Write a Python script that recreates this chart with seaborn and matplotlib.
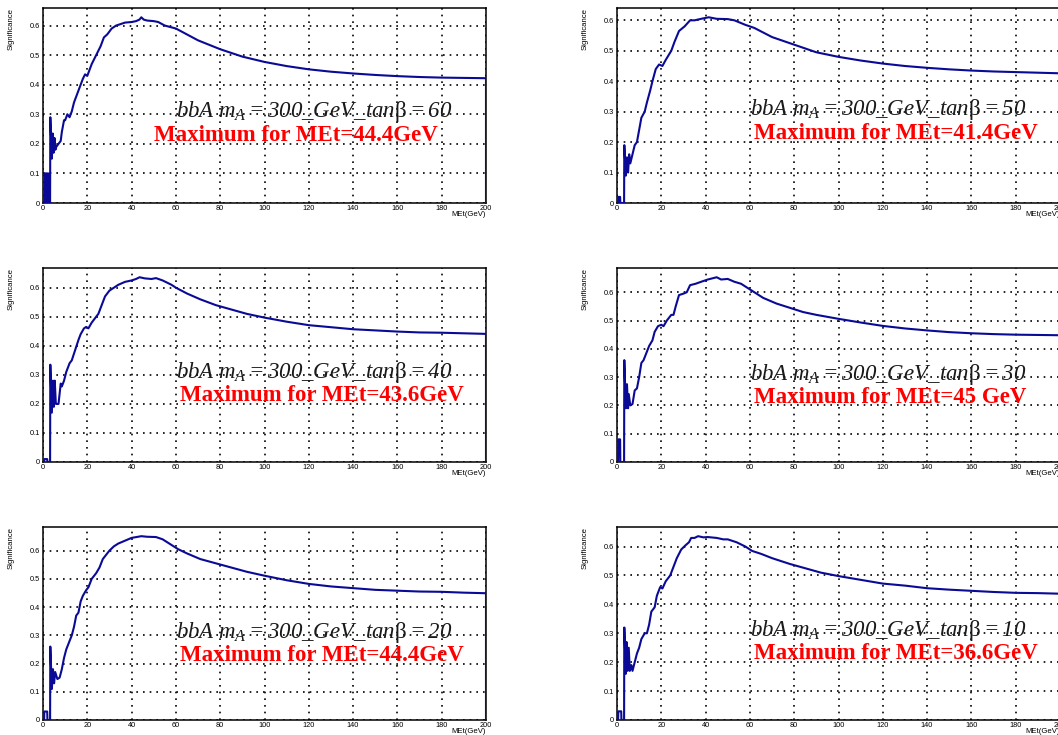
import matplotlib
matplotlib.use("Agg")
import matplotlib.pyplot as plt
from matplotlib.ticker import MultipleLocator
import seaborn as sns
import pandas as pd

# Significance vs. MET cut for bbA, m_A = 300 GeV, six tan(beta) points
tan_beta = [60, 50, 40, 30, 20, 10]
max_labels = ["44.4GeV", "41.4GeV", "43.6GeV", "45 GeV", "44.4GeV", "36.6GeV"]

met_tb60 = [0, 0.6, 0.7, 1.2, 1.3, 1.6, 1.7, 2.4, 2.5, 3.2, 3.3, 4.0, 4.4, 4.8, 5.2, 5.6, 6.0,
            7.0, 8.0, 8.5, 9.5, 10.0, 11.0, 12.0, 13.0, 14.0, 15.5, 17.0, 18.0, 19.0, 20.0, 21.0,
            22.0, 24.0, 26.0, 27.5, 29.0, 31.0, 33.0, 35.0, 37.0, 40.0, 42.0, 43.5, 44.4, 45.5,
            47.0, 50.0, 52.0, 55.0, 60.0, 65.0, 70.0, 75.0, 80.0, 90.0, 100.0, 110.0, 120.0,
            130.0, 140.0, 150.0, 160.0, 170.0, 180.0, 190.0, 200.0, 200.0]
sig_tb60 = [0, 0, 0.10, 0.10, 0, 0, 0.10, 0.10, 0, 0, 0.29, 0.15, 0.235, 0.17, 0.22, 0.18, 0.19,
            0.20, 0.21, 0.24, 0.28, 0.28, 0.30, 0.29, 0.31, 0.34, 0.37, 0.40, 0.42, 0.435, 0.43,
            0.45, 0.47, 0.50, 0.53, 0.56, 0.57, 0.59, 0.60, 0.605, 0.61, 0.612, 0.615, 0.62, 0.628,
            0.62, 0.617, 0.615, 0.612, 0.60, 0.59, 0.57, 0.55, 0.535, 0.52, 0.495, 0.477, 0.463,
            0.452, 0.444, 0.438, 0.433, 0.429, 0.426, 0.424, 0.423, 0.422, 0]

met_tb50 = [0, 0.5, 0.6, 1.4, 1.5, 3.2, 3.3, 4.0, 4.5, 5.0, 5.5, 6.0, 7.0, 8.0, 9.0, 10.0, 11.0,
            12.5, 13.5, 15.0, 16.0, 17.5, 19.0, 20.5, 22.0, 24.5, 26.0, 28.0, 30.5, 33.0, 35.0,
            38.0, 41.4, 45.0, 50.0, 53.0, 58.0, 62.0, 66.0, 70.0, 78.0, 84.0, 90.0, 100.0, 110.0,
            120.0, 130.0, 140.0, 150.0, 160.0, 170.0, 180.0, 190.0, 200.0, 200.0]
sig_tb50 = [0, 0, 0.02, 0.02, 0, 0, 0.19, 0.09, 0.15, 0.10, 0.16, 0.13, 0.16, 0.19, 0.20, 0.24,
            0.28, 0.30, 0.33, 0.37, 0.40, 0.44, 0.455, 0.45, 0.47, 0.50, 0.53, 0.565, 0.58, 0.60,
            0.60, 0.605, 0.61, 0.605, 0.604, 0.60, 0.585, 0.575, 0.56, 0.545, 0.525, 0.51, 0.495,
            0.48, 0.468, 0.458, 0.45, 0.444, 0.439, 0.435, 0.432, 0.43, 0.428, 0.426, 0]

met_tb40 = [0, 0.5, 0.6, 1.9, 2.0, 3.2, 3.3, 4.0, 4.5, 4.9, 5.3, 5.8, 7.0, 8.0, 8.5, 9.5, 10.5,
            12.0, 13.0, 14.5, 16.0, 17.0, 18.5, 19.5, 20.5, 22.0, 25.0, 26.5, 28.0, 30.0, 32.0,
            34.0, 37.0, 40.0, 42.0, 43.6, 46.0, 49.0, 51.0, 54.0, 58.0, 60.0, 65.0, 71.0, 78.0,
            85.0, 92.0, 100.0, 110.0, 120.0, 130.0, 140.0, 150.0, 160.0, 170.0, 180.0, 190.0,
            200.0, 200.0]
sig_tb40 = [0, 0, 0.01, 0.01, 0, 0, 0.335, 0.17, 0.28, 0.19, 0.28, 0.20, 0.20, 0.27, 0.26, 0.28,
            0.31, 0.34, 0.35, 0.385, 0.42, 0.44, 0.46, 0.465, 0.46, 0.48, 0.51, 0.54, 0.57, 0.59,
            0.60, 0.61, 0.62, 0.625, 0.63, 0.636, 0.632, 0.63, 0.633, 0.625, 0.61, 0.60, 0.58,
            0.56, 0.54, 0.525, 0.51, 0.497, 0.483, 0.471, 0.464, 0.457, 0.453, 0.449, 0.446,
            0.445, 0.443, 0.441, 0]

met_tb30 = [0, 0.5, 0.6, 1.4, 1.5, 3.2, 3.3, 4.0, 4.5, 5.0, 5.3, 6.0, 7.0, 8.0, 9.0, 10.0, 11.0,
            12.0, 13.0, 14.5, 16.0, 17.0, 18.5, 20.0, 21.0, 22.5, 24.5, 25.5, 26.5, 28.0, 30.0,
            31.5, 33.0, 35.5, 38.0, 41.0, 45.0, 47.0, 50.0, 53.0, 56.0, 59.0, 61.0, 66.0, 72.0,
            78.0, 84.0, 90.0, 100.0, 110.0, 120.0, 130.0, 140.0, 150.0, 160.0, 170.0, 180.0,
            190.0, 200.0, 200.0]
sig_tb30 = [0, 0, 0.08, 0.08, 0, 0, 0.36, 0.19, 0.275, 0.19, 0.24, 0.20, 0.205, 0.253, 0.26,
            0.30, 0.35, 0.36, 0.38, 0.41, 0.43, 0.46, 0.48, 0.485, 0.48, 0.50, 0.52, 0.52, 0.55,
            0.59, 0.595, 0.60, 0.625, 0.63, 0.637, 0.645, 0.653, 0.645, 0.647, 0.637, 0.63, 0.615,
            0.605, 0.58, 0.56, 0.545, 0.53, 0.52, 0.506, 0.493, 0.481, 0.472, 0.465, 0.459, 0.455,
            0.452, 0.45, 0.449, 0.448, 0]

met_tb20 = [0, 0.5, 0.6, 1.9, 2.0, 3.2, 3.3, 4.0, 4.5, 5.0, 5.5, 6.5, 7.5, 8.5, 9.5, 10.5, 11.5,
            13.0, 14.0, 15.0, 16.0, 17.0, 18.0, 19.5, 20.5, 22.0, 24.0, 25.5, 27.0, 28.5, 30.0,
            32.0, 34.0, 37.0, 40.0, 44.4, 47.0, 51.0, 54.0, 57.0, 61.0, 65.0, 71.0, 78.0, 85.0,
            92.0, 100.0, 110.0, 120.0, 130.0, 140.0, 150.0, 160.0, 170.0, 180.0, 190.0, 200.0,
            200.0]
sig_tb20 = [0, 0, 0.03, 0.03, 0, 0, 0.26, 0.11, 0.18, 0.13, 0.17, 0.145, 0.15, 0.18, 0.22, 0.25,
            0.27, 0.30, 0.33, 0.37, 0.38, 0.42, 0.44, 0.46, 0.47, 0.50, 0.52, 0.54, 0.57, 0.585,
            0.60, 0.615, 0.625, 0.635, 0.645, 0.651, 0.649, 0.648, 0.64, 0.625, 0.605, 0.59, 0.57,
            0.555, 0.54, 0.525, 0.511, 0.495, 0.482, 0.473, 0.467, 0.461, 0.458, 0.455, 0.454,
            0.451, 0.449, 0]

met_tb10 = [0, 0.5, 0.6, 1.9, 2.0, 3.2, 3.3, 4.0, 4.3, 4.8, 5.3, 5.8, 6.5, 7.0, 8.0, 9.0, 10.0,
            11.0, 12.5, 13.5, 14.5, 15.5, 17.0, 18.0, 19.5, 20.5, 22.0, 24.0, 25.5, 27.0, 29.0,
            31.0, 32.5, 33.5, 35.0, 36.6, 39.0, 41.0, 45.0, 48.0, 50.0, 54.0, 58.0, 61.0, 65.0,
            70.0, 78.0, 85.0, 92.0, 100.0, 110.0, 120.0, 130.0, 140.0, 150.0, 160.0, 170.0, 180.0,
            190.0, 200.0, 200.0]
sig_tb10 = [0, 0, 0.03, 0.03, 0, 0, 0.32, 0.16, 0.27, 0.17, 0.25, 0.17, 0.19, 0.17, 0.20, 0.23,
            0.25, 0.28, 0.30, 0.30, 0.33, 0.375, 0.39, 0.43, 0.46, 0.455, 0.48, 0.50, 0.53, 0.56,
            0.59, 0.605, 0.615, 0.63, 0.63, 0.636, 0.632, 0.633, 0.63, 0.625, 0.625, 0.615, 0.60,
            0.585, 0.575, 0.56, 0.54, 0.525, 0.51, 0.498, 0.485, 0.472, 0.465, 0.456, 0.451,
            0.447, 0.443, 0.44, 0.439, 0.437, 0]

met_series = [met_tb60, met_tb50, met_tb40, met_tb30, met_tb20, met_tb10]
sig_series = [sig_tb60, sig_tb50, sig_tb40, sig_tb30, sig_tb20, sig_tb10]

sns.set_theme(style="white")
# Italic serif for the whole annotation (digits included); upright serif only for beta
plt.rcParams.update({
    "font.family": ["Liberation Sans", "DejaVu Sans"],
    "mathtext.fontset": "custom",
    "mathtext.rm": "Liberation Serif:italic",
    "mathtext.it": "Liberation Serif:italic",
    "mathtext.sf": "Liberation Serif",
    "mathtext.bf": "Liberation Serif:bold",
})

W, H = 1058, 735
fig = plt.figure(figsize=(W / 100, H / 100), dpi=100)
fig.patch.set_facecolor("white")

col_left = [43, 617]
rows = [(8, 203), (268, 462), (527, 720)]
ax_w = 443

line_color = "#0a0a96"

for i in range(6):
    r, c = divmod(i, 2)
    top, bot = rows[r]
    ax = fig.add_axes([col_left[c] / W, (H - bot) / H, ax_w / W, (bot - top) / H])
    ax.set_facecolor("white")

    df = pd.DataFrame({"MEt": met_series[i], "Significance": sig_series[i]})
    sns.lineplot(data=df, x="MEt", y="Significance", ax=ax, estimator=None, sort=False,
                 color=line_color, linewidth=1.5, zorder=3)

    ymax = 1.05 * max(sig_series[i])
    ax.set_xlim(0, 200)
    ax.set_ylim(0, ymax)

    ax.xaxis.set_minor_locator(MultipleLocator(5))
    ax.yaxis.set_minor_locator(MultipleLocator(0.02))
    ax.set_xticks([0, 20, 40, 60, 80, 100, 120, 140, 160, 180, 200])
    ax.set_xticklabels(["0", "20", "40", "60", "80", "100", "120", "140", "160", "180", "200"])
    ax.set_yticks([0, 0.1, 0.2, 0.3, 0.4, 0.5, 0.6])
    ax.set_yticklabels(["0", "0.1", "0.2", "0.3", "0.4", "0.5", "0.6"])

    ax.tick_params(axis="both", which="both", direction="in", top=False, right=False,
                   labelsize=5.3, colors="black", width=0.8)
    ax.tick_params(axis="y", which="major", length=6, pad=2.5)
    ax.tick_params(axis="y", which="minor", length=3)
    ax.tick_params(axis="x", which="major", length=3, pad=1.5)
    ax.tick_params(axis="x", which="minor", length=1.6)

    ax.grid(True, which="major", color="black", linestyle=(0, (1, 3)), linewidth=1.2, zorder=1)
    for s in ax.spines.values():
        s.set_visible(True)
        s.set_color("black")
        s.set_linewidth(1.1)

    ax.set_xlabel("")
    ax.set_ylabel("")
    ax.text(1.0, -0.04, "MEt(GeV)", transform=ax.transAxes, ha="right", va="top",
            fontsize=5.6, color="black")
    ax.text(-0.072, 1.0, "Significance", transform=ax.transAxes, ha="center", va="top",
            rotation=90, fontsize=5.6, color="black")

    ax.text(60, 0.29,
            r"$bbA\ m_{A}=300\_GeV\_tan\mathsf{\beta}=%d$" % tan_beta[i],
            fontsize=16.5, color="#1a1a1a", ha="left", va="baseline", zorder=4)
    ax.text(50 if i == 0 else 62, 0.21, "Maximum for MEt=" + max_labels[i],
            family="Liberation Serif", fontweight="bold", fontsize=16.5, color="#ff0000",
            ha="left", va="baseline", zorder=4)

fig.savefig("out.png", dpi=100, facecolor="white")
